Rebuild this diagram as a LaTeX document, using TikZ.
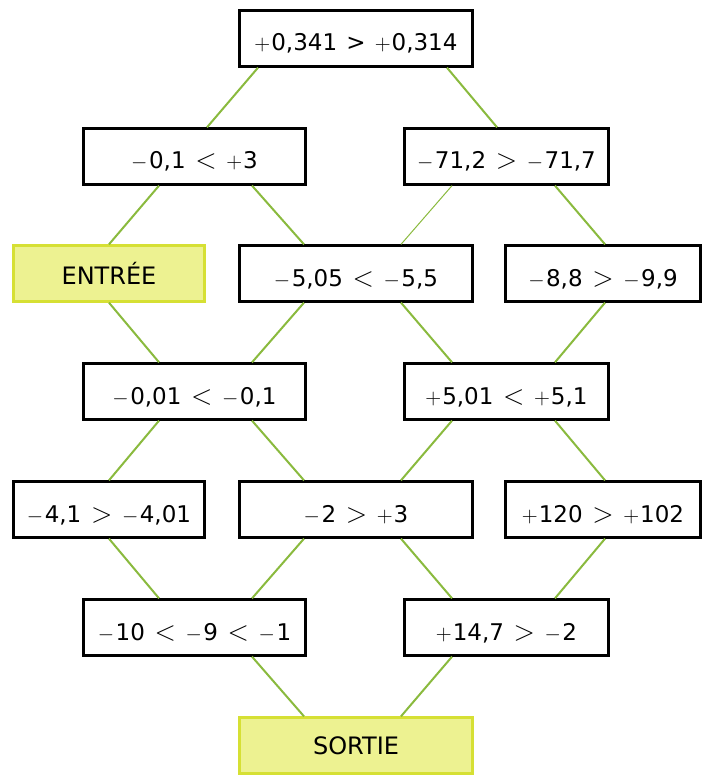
\documentclass[tikz,border=0pt]{standalone}
\usepackage{fix-cm}
\usepackage{fontspec}
\setmainfont{DejaVu Sans}
\definecolor{linkgreen}{RGB}{138,186,62}
\definecolor{endfill}{RGB}{237,242,145}
\definecolor{enddraw}{RGB}{214,224,52}
% signs and relations, set as light math symbols
\newcommand{\pl}{{\fontsize{22}{22}\selectfont\(+\)}\kern1pt}
\newcommand{\mn}{{\fontsize{21}{21}\selectfont\(-\)}\kern1.5pt}
\newcommand{\rel}[1]{\hspace{0.42em}{\fontsize{28}{28}\selectfont\(#1\)}\hspace{0.42em}}
\newcommand{\lt}{\rel{<}}
\newcommand{\gt}{\rel{>}}
\newcommand{\conn}[5][line width=2pt]{%
  \draw[link,#1] ([xshift=#3]#2.south) -- ([xshift=#5]#4.north);}
\begin{document}
\begin{tikzpicture}[x=1pt,y=-1pt,
  basebox/.style={draw=black,fill=white,line width=3pt,inner sep=0pt,outer sep=0pt,
    minimum height=56pt,font=\fontsize{23}{27}\selectfont},
  cmpbox/.style={basebox,text height=25pt,text depth=0pt},
  endbox/.style={basebox,draw=enddraw,fill=endfill,font=\fontsize{24}{28}\selectfont},
  link/.style={draw=linkgreen,shorten <=1.5pt,shorten >=1.5pt}]
  \useasboundingbox (0,0) rectangle (709,775);

  % row 1
  \node[cmpbox,minimum width=233pt] (top) at (356,38.5) {\pl0,341\hspace{0.4em}>\hspace{0.4em}\pl0,314};
  % row 2
  \node[cmpbox,minimum width=222pt] (l2) at (194.5,156.5) {\mn0,1\lt\pl3};
  \node[cmpbox,minimum width=204pt] (r2) at (506.5,156.5) {\mn71,2\gt\mn71,7};
  % row 3
  \node[endbox,minimum width=191pt] (entree) at (109,273.5) {ENTRÉE};
  \node[cmpbox,minimum width=233pt] (m3) at (356,273.5) {\mn5,05\lt\mn5,5};
  \node[cmpbox,minimum width=195pt] (r3) at (603,273.5) {\mn8,8\gt\mn9,9};
  % row 4
  \node[cmpbox,minimum width=222pt] (l4) at (194.5,391.5) {\mn0,01\lt\mn0,1};
  \node[cmpbox,minimum width=204pt] (r4) at (506.5,391.5) {\pl5,01\lt\pl5,1};
  % row 5
  \node[cmpbox,minimum width=191pt] (l5) at (109,509.5) {\mn4,1\gt\mn4,01};
  \node[cmpbox,minimum width=233pt] (m5) at (356,509.5) {\mn2\gt\pl3};
  \node[cmpbox,minimum width=195pt] (r5) at (603,509.5) {\pl120\gt\pl102};
  % row 6
  \node[cmpbox,minimum width=222pt] (l6) at (194.5,627.5) {\mn10\lt\mn9\lt\mn1};
  \node[cmpbox,minimum width=204pt] (r6) at (506.5,627.5) {\pl14,7\gt\mn2};
  % row 7
  \node[endbox,minimum width=233pt] (sortie) at (356,745.5) {SORTIE};

  % links between neighbouring boxes
  \conn{top}{-97pt}{l2}{11.5pt}
  \conn{top}{90pt}{r2}{-8.5pt}
  \conn{l2}{-34.5pt}{entree}{-1pt}
  \conn{l2}{56.5pt}{m3}{-51pt}
  \conn[line width=1pt]{r2}{-53.5pt}{m3}{44pt}
  \conn{r2}{47.5pt}{r3}{3pt}
  \conn{entree}{-1pt}{l4}{-34.5pt}
  \conn{m3}{-51pt}{l4}{56.5pt}
  \conn{m3}{44pt}{r4}{-53.5pt}
  \conn{r3}{3pt}{r4}{47.5pt}
  \conn{l4}{-34.5pt}{l5}{-1pt}
  \conn{l4}{56.5pt}{m5}{-51pt}
  \conn{r4}{-53.5pt}{m5}{44pt}
  \conn{r4}{47.5pt}{r5}{3pt}
  \conn{l5}{-1pt}{l6}{-34.5pt}
  \conn{m5}{-51pt}{l6}{56.5pt}
  \conn{m5}{44pt}{r6}{-53.5pt}
  \conn{r5}{3pt}{r6}{47.5pt}
  \conn{l6}{56.5pt}{sortie}{-51pt}
  \conn{r6}{-53.5pt}{sortie}{44pt}
\end{tikzpicture}
\end{document}
